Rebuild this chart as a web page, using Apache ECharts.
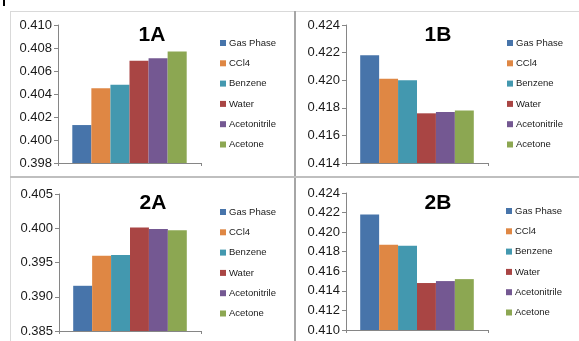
<!DOCTYPE html>
<html>
<head>
<meta charset="utf-8">
<script src="https://cdn.jsdelivr.net/npm/echarts@6/dist/echarts.min.js"></script>
<style>
  html, body { margin: 0; padding: 0; background: #fff; }
  #chart { width: 579px; height: 341px; }
</style>
</head>
<body>
<div id="chart"></div>
<script>
// Solvents (one bar each) and their colours
const solvents = ['Gas Phase', 'CCl4', 'Benzene', 'Water', 'Acetonitrile', 'Acetone'];
const solventColors = ['#4774AA', '#DF8744', '#4398AF', '#A94544', '#745892', '#8CA752'];

// Values per panel, in solvent order
const values1A = [0.4013, 0.4045, 0.4048, 0.4069, 0.4071, 0.4077];
const values1B = [0.4218, 0.4201, 0.4200, 0.4176, 0.4177, 0.4178];
const values2A = [0.3916, 0.3960, 0.3961, 0.4001, 0.3999, 0.3997];
const values2B = [0.4218, 0.4187, 0.4186, 0.4148, 0.4150, 0.4152];

// Panel titles and y-axis ranges
const panelTitles = ['1A', '1B', '2A', '2B'];
const yMins  = [0.398, 0.414, 0.385, 0.410];
const yMaxs  = [0.410, 0.424, 0.405, 0.424];
const ySteps = [0.002, 0.002, 0.005, 0.002];

const panelValues = [values1A, values1B, values2A, values2B];

// Layout of each panel (pixels)
const panels = [
  { grid: { left: 58,  top: 25,  width: 143, height: 138 }, title: [152, 25],  legend: [220, 38] },
  { grid: { left: 346, top: 25,  width: 142, height: 138 }, title: [438, 25],  legend: [507, 38] },
  { grid: { left: 59,  top: 194, width: 142, height: 137 }, title: [153, 193], legend: [220, 207] },
  { grid: { left: 346, top: 193, width: 142, height: 137 }, title: [438, 193], legend: [506, 206] }
];

const FONT = '"Liberation Sans", Arial, sans-serif';

const option = {
  animation: false,
  backgroundColor: '#ffffff',
  grid: [], xAxis: [], yAxis: [], series: [], title: [], legend: [],
  graphic: [
    // panel frame lines
    { type: 'line', shape: { x1: 10, y1: 11.5, x2: 579, y2: 11.5 }, style: { stroke: '#d9d9d9', lineWidth: 1 } },
    { type: 'line', shape: { x1: 10.5, y1: 11, x2: 10.5, y2: 341 }, style: { stroke: '#d9d9d9', lineWidth: 1 } },
    { type: 'line', shape: { x1: 295, y1: 11, x2: 295, y2: 341 }, style: { stroke: '#a6a6a6', lineWidth: 2 } },
    { type: 'line', shape: { x1: 10, y1: 177, x2: 579, y2: 177 }, style: { stroke: '#bfbfbf', lineWidth: 2 } },
    { type: 'rect', shape: { x: 3, y: 0, width: 2, height: 6 }, style: { fill: '#000' } }
  ]
};

panels.forEach((p, i) => {
  option.grid.push(Object.assign({ containLabel: false }, p.grid));
  option.xAxis.push({
    type: 'category',
    gridIndex: i,
    data: [''],
    boundaryGap: true,
    axisLine: { lineStyle: { color: '#868686', width: 1 } },
    axisTick: { show: true, length: 3, lineStyle: { color: '#868686' } },
    axisLabel: { show: false }
  });
  option.yAxis.push({
    type: 'value',
    gridIndex: i,
    min: yMins[i],
    max: yMaxs[i],
    interval: ySteps[i],
    axisLine: { show: true, lineStyle: { color: '#868686', width: 1 } },
    axisTick: { show: true, length: 4, lineStyle: { color: '#868686' } },
    splitLine: { show: false },
    axisLabel: {
      margin: 6,
      color: '#1a1a1a',
      fontSize: 13,
      fontFamily: FONT,
      formatter: v => v.toFixed(3)
    }
  });
  option.title.push({
    text: panelTitles[i],
    left: p.title[0],
    top: p.title[1],
    textAlign: 'center',
    padding: 0,
    textStyle: { fontSize: 21, fontWeight: 'bold', color: '#000', fontFamily: FONT }
  });
  option.legend.push({
    orient: 'vertical',
    left: p.legend[0],
    top: p.legend[1],
    padding: 0,
    itemWidth: 6,
    itemHeight: 6,
    itemGap: 10.3,
    icon: 'rect',
    data: solvents,
    selectedMode: false,
    textStyle: { fontSize: 9.5, color: '#1a1a1a', fontFamily: FONT, padding: [0, 0, 0, -2], lineHeight: 10 }
  });
  solvents.forEach((name, k) => {
    option.series.push({
      type: 'bar',
      name: name,
      xAxisIndex: i,
      yAxisIndex: i,
      data: [panelValues[i][k]],
      barGap: '0%',
      barCategoryGap: '20%',
      itemStyle: { color: solventColors[k] }
    });
  });
});

const chart = echarts.init(document.getElementById('chart'), null, { renderer: 'canvas' });
chart.setOption(option);
</script>
</body>
</html>
